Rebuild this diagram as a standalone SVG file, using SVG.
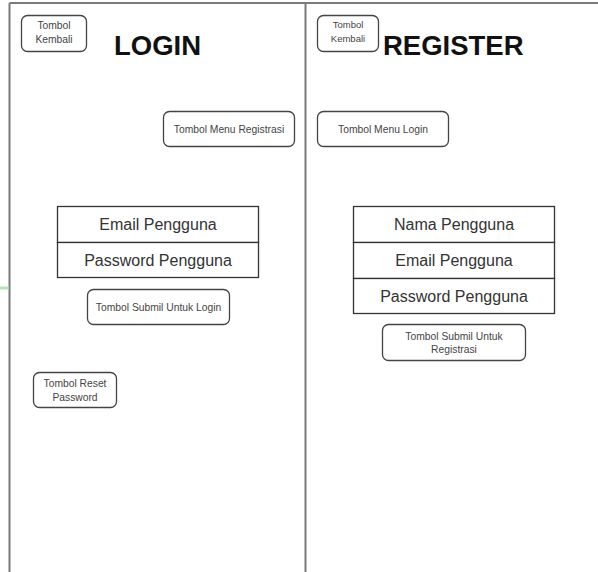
<svg xmlns="http://www.w3.org/2000/svg" width="598" height="572" viewBox="0 0 598 572">
  <style>
    .frame { stroke: #7a7a7a; stroke-width: 2; fill: none; }
    .btn { fill: #ffffff; stroke: #444444; stroke-width: 1.3; }
    .field { fill: #ffffff; stroke: #333333; stroke-width: 1.3; }
    .small { font-family: "Liberation Sans", Arial, sans-serif; font-size: 10.3px; fill: #444444; text-anchor: middle; }
    .big { font-family: "Liberation Sans", Arial, sans-serif; font-size: 16px; fill: #333333; text-anchor: middle; }
    .title { font-family: "Liberation Sans", Arial, sans-serif; font-size: 27.5px; font-weight: bold; fill: #111111; }
  </style>
  <rect width="598" height="572" fill="#ffffff"/>

  <!-- page frames -->
  <g id="frames">
    <line class="frame" x1="9.5" y1="3" x2="598" y2="3"/>
    <line class="frame" x1="9.5" y1="3" x2="9.5" y2="572"/>
    <line class="frame" x1="305.5" y1="3" x2="305.5" y2="572"/>
  </g>

  <g id="connectors">
    <line x1="0" y1="288" x2="8.5" y2="288" stroke="#b3e6b3" stroke-width="3"/>
  </g>

  <!-- login screen -->
  <g id="login-back">
    <rect class="btn" x="21.5" y="15.5" width="65" height="36" rx="6"/>
    <text class="small" x="54" y="29">Tombol</text>
    <text class="small" x="54" y="43">Kembali</text>
  </g>
  <g id="login-title">
    <text class="title" x="114" y="55">LOGIN</text>
  </g>
  <g id="login-to-register">
    <rect class="btn" x="163.5" y="111.5" width="131" height="35" rx="6"/>
    <text class="small" x="229" y="132.5">Tombol Menu Registrasi</text>
  </g>
  <g id="login-form">
    <rect class="field" x="57.5" y="206.5" width="201" height="36"/>
    <rect class="field" x="57.5" y="242.5" width="201" height="35"/>
    <text class="big" x="158" y="230">Email Pengguna</text>
    <text class="big" x="158" y="266">Password Pengguna</text>
  </g>
  <g id="login-submit">
    <rect class="btn" x="87.5" y="289.5" width="142" height="35" rx="6"/>
    <text class="small" x="158.5" y="310.5">Tombol Submil Untuk Login</text>
  </g>
  <g id="login-reset">
    <rect class="btn" x="33.5" y="372.5" width="83" height="35" rx="6"/>
    <text class="small" x="75" y="387">Tombol Reset</text>
    <text class="small" x="75" y="400.5">Password</text>
  </g>

  <!-- register screen -->
  <g id="register-back">
    <rect class="btn" x="317.5" y="15.5" width="61" height="36" rx="6"/>
    <text class="small" x="348" y="28" style="font-size:9.5px">Tombol</text>
    <text class="small" x="348" y="42" style="font-size:9.5px">Kembali</text>
  </g>
  <g id="register-title">
    <text class="title" x="383" y="55">REGISTER</text>
  </g>
  <g id="register-to-login">
    <rect class="btn" x="317.5" y="111.5" width="131" height="35" rx="6"/>
    <text class="small" x="383" y="132.5">Tombol Menu Login</text>
  </g>
  <g id="register-form">
    <rect class="field" x="353.5" y="206.5" width="201" height="36"/>
    <rect class="field" x="353.5" y="242.5" width="201" height="36"/>
    <rect class="field" x="353.5" y="278.5" width="201" height="35"/>
    <text class="big" x="454" y="230">Nama Pengguna</text>
    <text class="big" x="454" y="266">Email Pengguna</text>
    <text class="big" x="454" y="302">Password Pengguna</text>
  </g>
  <g id="register-submit">
    <rect class="btn" x="382.5" y="324.5" width="143" height="36" rx="6"/>
    <text class="small" x="454" y="339.5">Tombol Submil Untuk</text>
    <text class="small" x="454" y="352.5">Registrasi</text>
  </g>
</svg>
